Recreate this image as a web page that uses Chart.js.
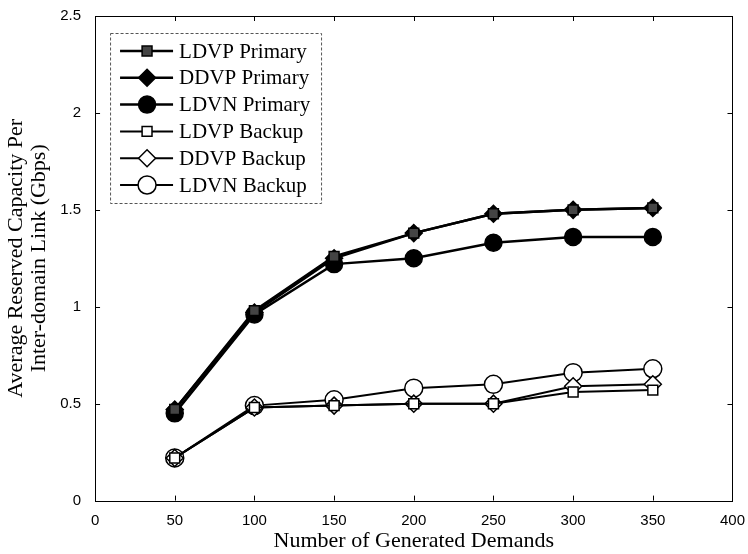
<!DOCTYPE html>
<html>
<head>
<meta charset="utf-8">
<script src="https://cdn.jsdelivr.net/npm/chart.js@4.4.1/dist/chart.umd.min.js"></script>
<style>
  html, body { margin: 0; padding: 0; background: #fff; }
  #wrap { width: 748px; height: 554px; }
</style>
</head>
<body>
<div id="wrap"><canvas id="demand-chart" width="748" height="554"></canvas></div>
<script>
const demands = [50, 100, 150, 200, 250, 300, 350];
const ldvpPrimary = [0.47, 0.98, 1.26, 1.38, 1.48, 1.50, 1.51];
const ddvpPrimary = [0.47, 0.97, 1.25, 1.38, 1.48, 1.50, 1.51];
const ldvnPrimary = [0.45, 0.96, 1.22, 1.25, 1.33, 1.36, 1.36];
const ldvpBackup = [0.22, 0.48, 0.49, 0.50, 0.50, 0.56, 0.57];
const ddvpBackup = [0.22, 0.48, 0.49, 0.50, 0.50, 0.59, 0.60];
const ldvnBackup = [0.22, 0.49, 0.52, 0.58, 0.60, 0.66, 0.68];
const xTicks = [0, 50, 100, 150, 200, 250, 300, 350, 400];
const yTicks = [0, 0.5, 1, 1.5, 2, 2.5];

const serif = "'Liberation Serif', 'Times New Roman', serif";
const sans = "'Liberation Sans', Arial, sans-serif";

function toPoints(values) {
  return demands.map((d, i) => ({ x: d, y: values[i] }));
}

function series(label, values, style, radius, fill, width) {
  return {
    label: label,
    data: toPoints(values),
    borderColor: "#000",
    borderWidth: width,
    pointStyle: style,
    pointRadius: radius,
    pointBackgroundColor: fill,
    pointBorderColor: "#000",
    pointBorderWidth: 1.5,
    tension: 0,
  };
}

// matlab style box with inward ticks on all four sides
const frame = {
  id: "frame",
  beforeDatasetsDraw(chart) {
    const { ctx, chartArea: a, scales } = chart;
    ctx.save();
    ctx.strokeStyle = "#000";
    ctx.lineWidth = 1;
    xTicks.forEach((t) => {
      const x = Math.round(scales.x.getPixelForValue(t)) + 0.5;
      ctx.beginPath();
      ctx.moveTo(x, a.bottom); ctx.lineTo(x, a.bottom - 5);
      ctx.moveTo(x, a.top); ctx.lineTo(x, a.top + 5);
      ctx.stroke();
    });
    yTicks.forEach((t) => {
      const y = Math.round(scales.y.getPixelForValue(t)) + 0.5;
      ctx.beginPath();
      ctx.moveTo(a.left, y); ctx.lineTo(a.left + 5, y);
      ctx.moveTo(a.right, y); ctx.lineTo(a.right - 5, y);
      ctx.stroke();
    });
    ctx.strokeRect(Math.round(a.left) + 0.5, Math.round(a.top) + 0.5,
      Math.round(a.right - a.left), Math.round(a.bottom - a.top));
    ctx.restore();
  },
};

const boxLegend = {
  id: "boxLegend",
  afterDatasetsDraw(chart) {
    const { ctx, chartArea: a } = chart;
    const left = a.left + 15, top = a.top + 17, w = 211, h = 170;
    ctx.save();
    ctx.fillStyle = "#fff";
    ctx.fillRect(left, top, w, h);
    ctx.strokeStyle = "#555";
    ctx.lineWidth = 1;
    ctx.setLineDash([3, 2]);
    ctx.strokeRect(left + 0.5, top + 0.5, w, h);
    ctx.setLineDash([]);
    ctx.font = "21px " + serif;
    ctx.textBaseline = "middle";
    chart.data.datasets.forEach((ds, i) => {
      const y = top + 18 + i * 26.8;
      ctx.strokeStyle = "#000";
      ctx.lineWidth = ds.borderWidth;
      ctx.beginPath();
      ctx.moveTo(left + 10, y);
      ctx.lineTo(left + 63, y);
      ctx.stroke();
      ctx.fillStyle = ds.pointBackgroundColor;
      ctx.lineWidth = ds.pointBorderWidth;
      Chart.helpers.drawPoint(ctx, {
        pointStyle: ds.pointStyle,
        radius: ds.pointRadius,
        borderWidth: ds.pointBorderWidth,
        rotation: 0,
      }, left + 37, y);
      ctx.fillStyle = "#000";
      ctx.fillText(ds.label, left + 69, y + 1);
    });
    ctx.restore();
  },
};

new Chart(document.getElementById("demand-chart"), {
  type: "line",
  data: {
    datasets: [
      series("LDVP Primary", ldvpPrimary, "rect", 7, "#444", 2.5),
      series("DDVP Primary", ddvpPrimary, "rectRot", 8.5, "#000", 2.5),
      series("LDVN Primary", ldvnPrimary, "circle", 8.5, "#000", 2.5),
      series("LDVP Backup", ldvpBackup, "rect", 7, "#fff", 2),
      series("DDVP Backup", ddvpBackup, "rectRot", 8.5, "#fff", 2),
      series("LDVN Backup", ldvnBackup, "circle", 9, "#fff", 2),
    ],
  },
  options: {
    responsive: false,
    animation: false,
    layout: { padding: { top: 16, right: 7, left: 5, bottom: 0 } },
    plugins: {
      legend: { display: false },
      tooltip: { enabled: false },
    },
    scales: {
      x: {
        type: "linear",
        min: 0,
        max: 400,
        afterBuildTicks: (axis) => { axis.ticks = xTicks.map((v) => ({ value: v })); },
        grid: { display: false },
        border: { display: false },
        ticks: {
          color: "#000",
          font: { family: sans, size: 15 },
          padding: 3,
          maxRotation: 0,
          callback: (v) => String(v),
        },
        title: {
          display: true,
          text: "Number of Generated Demands",
          color: "#000",
          font: { family: serif, size: 22 },
          padding: { top: -5, bottom: 0 },
        },
      },
      y: {
        min: 0,
        max: 2.5,
        afterBuildTicks: (axis) => { axis.ticks = yTicks.map((v) => ({ value: v })); },
        grid: { display: false },
        border: { display: false },
        ticks: {
          color: "#000",
          font: { family: sans, size: 15 },
          padding: 6,
          callback: (v) => String(v),
        },
        title: {
          display: true,
          text: ["Average Reserved Capacity Per", "Inter-domain Link (Gbps)"],
          color: "#000",
          font: { family: serif, size: 22, lineHeight: 1.05 },
          padding: { top: 0, bottom: 3 },
        },
      },
    },
  },
  plugins: [frame, boxLegend],
});
</script>
</body>
</html>
